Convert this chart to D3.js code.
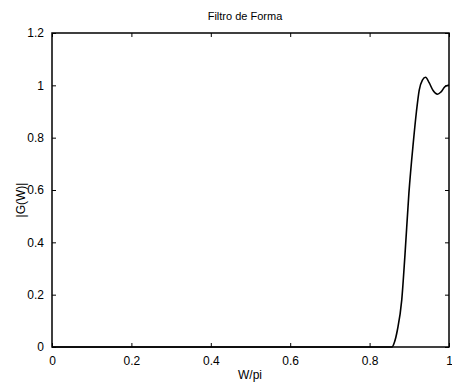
<!DOCTYPE html>
<html><head><meta charset="utf-8">
<script src="https://cdn.jsdelivr.net/npm/d3@7"></script>
<style>body{margin:0;background:#fff}svg{display:block}text{font-family:Arial,"Liberation Sans",sans-serif;fill:#000}</style>
</head><body>
<svg id="c" width="452" height="384"></svg>
<script>
const xValues = [0, 0.85, 0.856, 0.863, 0.870, 0.881, 0.889, 0.899, 0.910, 0.918, 0.925, 0.933, 0.941, 0.95, 0.96, 0.971, 0.98, 0.99, 1.0];
const gValues = [0, 0, 0, 0.02, 0.065, 0.18, 0.35, 0.588, 0.78, 0.90, 0.982, 1.02, 1.031, 1.01, 0.98, 0.966, 0.975, 0.995, 1.001];
const xTicks = [0, 0.2, 0.4, 0.6, 0.8, 1];
const yTicks = [0, 0.2, 0.4, 0.6, 0.8, 1, 1.2];
const title = "Filtro de Forma";
const xLabel = "W/pi";
const yLabel = "|G(W)|";

const svg = d3.select("#c");
const L = 52, R = 449, T = 33, B = 347;
const x = d3.scaleLinear().domain([0, 1]).range([L, R]);
const y = d3.scaleLinear().domain([0, 1.2]).range([B, T]);
const fmt = d => d === 0 ? "0" : d === 1 ? "1" : d3.format(".1f")(d);

const g = svg.append("g");
g.append("g").attr("transform", `translate(0,${B})`)
  .call(d3.axisBottom(x).tickValues(xTicks).tickFormat(fmt).tickSizeInner(-4).tickSizeOuter(0).tickPadding(9));
g.append("g").attr("transform", `translate(0,${T})`)
  .call(d3.axisTop(x).tickValues(xTicks).tickFormat("").tickSizeInner(-4).tickSizeOuter(0));
g.append("g").attr("transform", `translate(${L},0)`)
  .call(d3.axisLeft(y).tickValues(yTicks).tickFormat(fmt).tickSizeInner(-4).tickSizeOuter(0).tickPadding(8));
g.append("g").attr("transform", `translate(${R},0)`)
  .call(d3.axisRight(y).tickValues(yTicks).tickFormat("").tickSizeInner(-4).tickSizeOuter(0));
g.selectAll(".domain").remove();
g.selectAll(".tick line").attr("stroke", "#000").attr("stroke-width", 1);
g.selectAll(".tick text").attr("font-size", 12);

svg.append("rect").attr("x", L).attr("y", T).attr("width", R - L).attr("height", B - T)
  .attr("fill", "none").attr("stroke", "#000").attr("stroke-width", 1.5);

const data = xValues.map((v, i) => [v, gValues[i]]);
svg.append("path").datum(data)
  .attr("fill", "none").attr("stroke", "#000").attr("stroke-width", 1.6)
  .attr("d", d3.line().x(d => x(d[0])).y(d => y(d[1])).curve(d3.curveMonotoneX));

svg.append("text").attr("x", 245).attr("y", 20).attr("text-anchor", "middle").attr("font-size", 11).text(title);
svg.append("text").attr("x", 250).attr("y", 379).attr("text-anchor", "middle").attr("font-size", 12).text(xLabel);
svg.append("text").attr("transform", "translate(25,200) rotate(-90)").attr("text-anchor", "middle").attr("font-size", 12).text(yLabel);
</script>
</body></html>
